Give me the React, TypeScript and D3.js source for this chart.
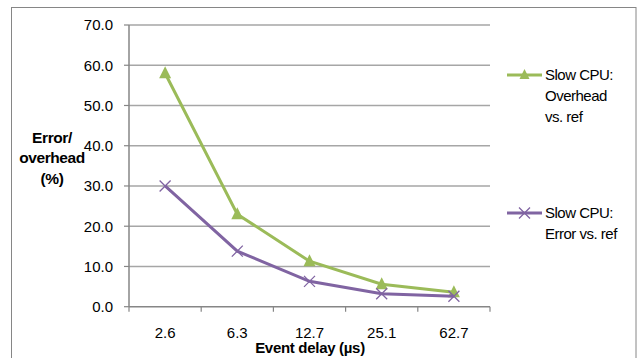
import React from "react";
import * as d3 from "d3";

const categories = ["2.6", "6.3", "12.7", "25.1", "62.7"];
const overhead = [58.0, 23.0, 11.3, 5.6, 3.6];
const errorVals = [30.0, 13.8, 6.3, 3.2, 2.6];
const yTicks = [0, 10, 20, 30, 40, 50, 60, 70];

const GREEN = "#9BBB59";
const PURPLE = "#8064A2";
const FONT = "'Liberation Sans', Arial, sans-serif";

export default function App() {
  const W = 641, H = 358;
  const left = 129, right = 490, top = 25, bottom = 306.7;
  const x = d3.scaleBand<string>().domain(categories).range([left, right]);
  const y = d3.scaleLinear().domain([0, 70]).range([bottom, top]);
  const cx = (c: string) => (x(c) as number) + x.bandwidth() / 2;
  const line = d3.line<number>().x((_, i) => cx(categories[i])).y((v) => y(v));

  const tri = (px: number, py: number, s = 6) =>
    `M${px},${py - s - 1}L${px + s},${py + s - 1}L${px - s},${py + s - 1}Z`;
  const cross = (px: number, py: number, s = 5.5) =>
    `M${px - s},${py - s}L${px + s},${py + s}M${px - s},${py + s}L${px + s},${py - s}`;

  const bounds = [...categories.map((c) => x(c) as number), right];

  return (
    <svg width={W} height={H} style={{ position: "absolute", left: 0, top: 0 }} fontFamily={FONT}>
      <rect x={0} y={0} width={W} height={H} fill="#fff" />
      <rect x={11.5} y={7.5} width={624.5} height={360} fill="none" stroke="#868686" strokeWidth={1} />
      {yTicks.map((t) => (
        <g key={t}>
          {t > 0 && <line x1={left} x2={right} y1={y(t)} y2={y(t)} stroke="#a6a6a6" strokeWidth={1.5} />}
          <line x1={left - 5} x2={left} y1={y(t)} y2={y(t)} stroke="#868686" strokeWidth={1.2} />
          <text x={113} y={y(t)} dy="0.36em" textAnchor="end" fontSize={15} fill="#000">
            {t.toFixed(1)}
          </text>
        </g>
      ))}
      <line x1={left} x2={left} y1={top} y2={bottom} stroke="#868686" strokeWidth={1.5} />
      <line x1={left} x2={right} y1={bottom} y2={bottom} stroke="#868686" strokeWidth={1.5} />
      {bounds.map((b, i) => (
        <line key={i} x1={b} x2={b} y1={bottom} y2={bottom + 5} stroke="#868686" strokeWidth={1.2} />
      ))}
      {categories.map((c) => (
        <text key={c} x={cx(c)} y={333} dy="0.36em" textAnchor="middle" fontSize={15}>
          {c}
        </text>
      ))}
      <text x={310} y={348} dy="0.36em" textAnchor="middle" fontSize={15} fontWeight="bold" letterSpacing={-0.3}>
        Event delay (µs)
      </text>
      <text textAnchor="middle" fontSize={15.5} fontWeight="bold" letterSpacing={-0.4}>
        <tspan x={52} y={137} dy="0.36em">Error/</tspan>
        <tspan x={52} y={157} dy="0.36em">overhead</tspan>
        <tspan x={52} y={178} dy="0.36em">(%)</tspan>
      </text>

      <path d={line(overhead) || ""} fill="none" stroke={GREEN} strokeWidth={3} />
      {overhead.map((v, i) => (
        <path key={i} d={tri(cx(categories[i]), y(v))} fill={GREEN} />
      ))}
      <path d={line(errorVals) || ""} fill="none" stroke={PURPLE} strokeWidth={3} />
      {errorVals.map((v, i) => (
        <path key={i} d={cross(cx(categories[i]), y(v))} stroke={PURPLE} strokeWidth={1.3} fill="none" />
      ))}

      {/* Legend */}
      <line x1={507} x2={542} y1={75} y2={75} stroke={GREEN} strokeWidth={3} />
      <path d={tri(524.5, 75, 5)} fill={GREEN} />
      <text fontSize={15} letterSpacing={-0.5}>
        <tspan x={545} y={75} dy="0.36em">Slow CPU:</tspan>
        <tspan x={545} y={96} dy="0.36em">Overhead</tspan>
        <tspan x={545} y={117} dy="0.36em">vs. ref</tspan>
      </text>
      <line x1={507} x2={542} y1={213} y2={213} stroke={PURPLE} strokeWidth={3} />
      <path d={cross(524.5, 213, 5.5)} stroke={PURPLE} strokeWidth={1.3} fill="none" />
      <text fontSize={15} letterSpacing={-0.5}>
        <tspan x={545} y={213} dy="0.36em">Slow CPU:</tspan>
        <tspan x={545} y={234} dy="0.36em">Error vs. ref</tspan>
      </text>
    </svg>
  );
}
